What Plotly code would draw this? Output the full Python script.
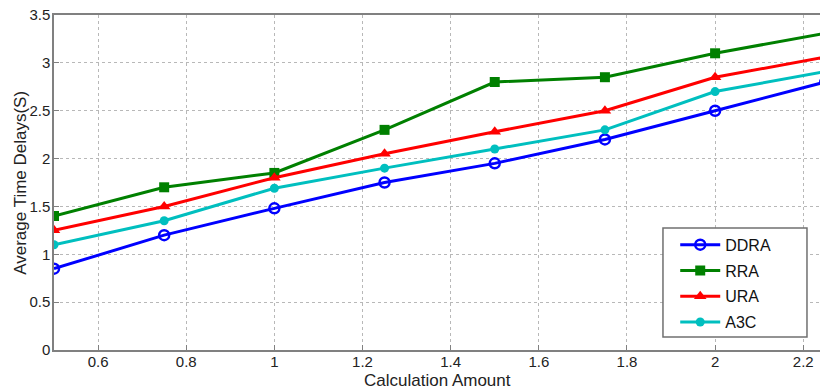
import plotly.graph_objects as go

x_vals = [0.5, 0.75, 1.0, 1.25, 1.5, 1.75, 2.0, 2.25]
ddra = [0.85, 1.20, 1.48, 1.75, 1.95, 2.20, 2.50, 2.80]
rra = [1.40, 1.70, 1.85, 2.30, 2.80, 2.85, 3.10, 3.31]
ura = [1.25, 1.50, 1.80, 2.05, 2.28, 2.50, 2.85, 3.06]
a3c = [1.10, 1.35, 1.69, 1.90, 2.10, 2.30, 2.70, 2.91]

x_ticks = [0.6, 0.8, 1.0, 1.2, 1.4, 1.6, 1.8, 2.0, 2.2]
x_tick_labels = ["0.6", "0.8", "1", "1.2", "1.4", "1.6", "1.8", "2", "2.2"]
y_ticks = [0, 0.5, 1, 1.5, 2, 2.5, 3, 3.5]
y_tick_labels = ["0", "0.5", "1", "1.5", "2", "2.5", "3", "3.5"]

series = [
    ("DDRA", ddra, "#0000ff", dict(symbol="circle-open", size=10, line=dict(width=2.5))),
    ("RRA", rra, "#008000", dict(symbol="square", size=10)),
    ("URA", ura, "#ff0000", dict(symbol="triangle-up", size=11)),
    ("A3C", a3c, "#00bfbf", dict(symbol="circle", size=9)),
]

fig = go.Figure()
for name, ys, color, mk in series:
    m = dict(color=color, **mk)
    fig.add_trace(go.Scatter(x=x_vals, y=ys, name=name, mode="lines+markers",
                             legendgroup=name,
                             line=dict(color=color, width=3), marker=m))

# legend frame (opaque box like the original)
fig.add_shape(type="rect", xref="paper", yref="paper",
              x0=0.795, x1=0.983, y0=0.039, y1=0.364,
              line=dict(color="#707070", width=1.5), fillcolor="white", layer="above")

font = "Liberation Sans, Arial, sans-serif"
fig.add_annotation(text="Average Time Delays(S)", textangle=-90, showarrow=False,
                   xref="paper", yref="paper", x=-0.044, y=0.5,
                   xanchor="center", yanchor="middle", font=dict(size=17, color="#222"))
fig.add_annotation(text="Calculation Amount", showarrow=False,
                   xref="paper", yref="paper", x=0.5, y=-0.09,
                   xanchor="center", yanchor="middle", font=dict(size=17, color="#222"))

fig.update_layout(
    width=820, height=392,
    margin=dict(l=54, r=0, t=15, b=42),
    paper_bgcolor="white", plot_bgcolor="white",
    font=dict(family=font, size=14, color="#222"),
    showlegend=True,
    legend=dict(x=0.811, y=0.365, xanchor="left", yanchor="top",
                borderwidth=0, bgcolor="rgba(0,0,0,0)",
                font=dict(size=16, color="#111"), tracegroupgap=2,
                itemwidth=40),
    xaxis=dict(range=[0.5, 2.238], tickvals=x_ticks, ticktext=x_tick_labels,
               showgrid=True, gridcolor="#b8b8b8", griddash="dot", gridwidth=1,
               showline=True, linecolor="#808080", linewidth=1.5, mirror=True,
               ticks="inside", ticklen=5, tickcolor="#808080", zeroline=False,
               automargin=False, tickfont=dict(size=15), ticklabelstandoff=-3),
    yaxis=dict(range=[0, 3.5], tickvals=y_ticks, ticktext=y_tick_labels,
               showgrid=True, gridcolor="#b8b8b8", griddash="dot", gridwidth=1,
               showline=True, linecolor="#808080", linewidth=1.5,
               ticks="inside", ticklen=5, tickcolor="#808080", zeroline=False,
               automargin=False, tickfont=dict(size=15), ticklabelstandoff=-1),
)

fig.write_html("out.html", post_script="document.body.style.margin='0';",
               config={"displayModeBar": False})
